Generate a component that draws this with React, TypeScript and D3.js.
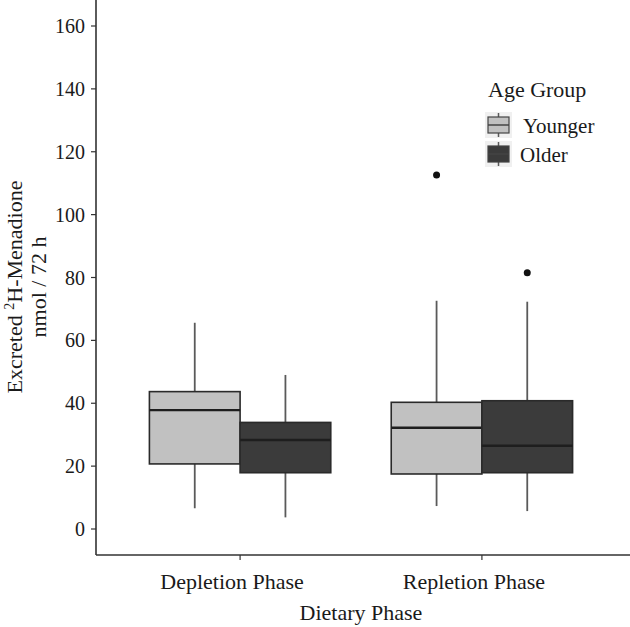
import React, { useEffect, useRef } from "react";
import * as d3 from "d3";

const phases = ["Depletion Phase", "Repletion Phase"];
const groups = ["Younger", "Older"];
const groupColors = ["#c1c1c1", "#3b3b3b"];
// [phaseIndex] = [whiskerLow, q1, median, q3, whiskerHigh]
const younger = [
  [6.6, 20.7, 37.8, 43.7, 65.6],
  [7.3, 17.5, 32.2, 40.3, 72.6],
];
const older = [
  [3.7, 17.9, 28.3, 33.9, 49.0],
  [5.7, 17.9, 26.5, 40.8, 72.3],
];
const outliersYounger = [[], [112.6]];
const outliersOlder = [[], [81.5]];
const yTicks = [0, 20, 40, 60, 80, 100, 120, 140, 160];

export default function App() {
  const ref = useRef<SVGSVGElement>(null);
  useEffect(() => {
    const svg = d3.select(ref.current);
    svg.selectAll("*").remove();
    const font = "'Liberation Serif', 'Times New Roman', serif";
    const y = d3.scaleLinear().domain([0, 160]).range([529, 26]);
    const x = d3.scaleLinear().domain([0.4, 2.6]).range([95, 627]);
    const axisX = 96;
    const axisY = 555;
    const dodge = 0.375;

    // axes lines
    svg.append("line").attr("x1", axisX).attr("x2", axisX).attr("y1", 0).attr("y2", axisY)
      .attr("stroke", "#333").attr("stroke-width", 1.6);
    svg.append("line").attr("x1", axisX).attr("x2", 630).attr("y1", axisY).attr("y2", axisY)
      .attr("stroke", "#333").attr("stroke-width", 1.6);

    // y ticks
    const yg = svg.append("g");
    yTicks.forEach((t) => {
      yg.append("line").attr("x1", axisX - 5).attr("x2", axisX).attr("y1", y(t)).attr("y2", y(t))
        .attr("stroke", "#333").attr("stroke-width", 1.2);
      yg.append("text").attr("x", axisX - 11).attr("y", y(t)).attr("dy", "0.35em")
        .attr("text-anchor", "end").attr("font-family", font).attr("font-size", 20)
        .attr("fill", "#1a1a1a").text(String(t));
    });

    // x ticks
    phases.forEach((p, i) => {
      const cx = x(i + 1);
      svg.append("line").attr("x1", cx).attr("x2", cx).attr("y1", axisY).attr("y2", axisY + 5)
        .attr("stroke", "#333").attr("stroke-width", 1.2);
      svg.append("text").attr("x", cx - 8).attr("y", 589).attr("text-anchor", "middle")
        .attr("font-family", font).attr("font-size", 22).attr("fill", "#1a1a1a").text(p);
    });

    // axis titles
    svg.append("text").attr("x", 361).attr("y", 620).attr("text-anchor", "middle")
      .attr("font-family", font).attr("font-size", 22).attr("fill", "#1a1a1a").text("Dietary Phase");
    const yt = svg.append("text").attr("transform", `translate(0,287) rotate(-90)`)
      .attr("text-anchor", "middle").attr("font-family", font).attr("font-size", 22).attr("fill", "#1a1a1a");
    const l1 = yt.append("tspan").attr("x", 0).attr("y", 22);
    l1.append("tspan").text("Excreted ");
    l1.append("tspan").attr("font-size", 14).attr("dy", -8).text("2");
    l1.append("tspan").attr("dy", 8).text("H-Menadione");
    yt.append("tspan").attr("x", 0).attr("y", 46).text("nmol / 72 h");

    // boxes
    const data = [younger, older];
    const outs = [outliersYounger, outliersOlder];
    phases.forEach((_, pi) => {
      groups.forEach((_, gi) => {
        const s = data[gi][pi];
        const center = pi + 1 + (gi === 0 ? -dodge / 2 : dodge / 2);
        const x0 = x(center - dodge / 2);
        const x1 = x(center + dodge / 2);
        const cx = x(center);
        const g = svg.append("g");
        g.append("line").attr("x1", cx).attr("x2", cx).attr("y1", y(s[3])).attr("y2", y(s[4]))
          .attr("stroke", "#5a5a5a").attr("stroke-width", 1.8);
        g.append("line").attr("x1", cx).attr("x2", cx).attr("y1", y(s[1])).attr("y2", y(s[0]))
          .attr("stroke", "#5a5a5a").attr("stroke-width", 1.8);
        g.append("rect").attr("x", x0).attr("y", y(s[3])).attr("width", x1 - x0)
          .attr("height", y(s[1]) - y(s[3])).attr("fill", groupColors[gi])
          .attr("stroke", "#2a2a2a").attr("stroke-width", 1.6);
        g.append("line").attr("x1", x0).attr("x2", x1).attr("y1", y(s[2])).attr("y2", y(s[2]))
          .attr("stroke", "#1e1e1e").attr("stroke-width", 2.4);
        outs[gi][pi].forEach((o) => {
          g.append("circle").attr("cx", cx).attr("cy", y(o)).attr("r", 3.5).attr("fill", "#111");
        });
      });
    });

    // legend
    const lg = svg.append("g");
    lg.append("text").attr("x", 488).attr("y", 97).attr("font-family", font).attr("font-size", 22)
      .attr("fill", "#1a1a1a").text("Age Group");
    groups.forEach((gname, gi) => {
      const ky = 112 + gi * 29;
      lg.append("rect").attr("x", 485).attr("y", ky).attr("width", 27).attr("height", 26)
        .attr("fill", "#f0f0f0");
      lg.append("line").attr("x1", 498.5).attr("x2", 498.5).attr("y1", ky + 1).attr("y2", ky + 25)
        .attr("stroke", "#5a5a5a").attr("stroke-width", 1.5);
      lg.append("rect").attr("x", 488).attr("y", ky + 5).attr("width", 21).attr("height", 16)
        .attr("fill", groupColors[gi]).attr("stroke", "#444").attr("stroke-width", 1.2);
      lg.append("line").attr("x1", 488).attr("x2", 509).attr("y1", ky + 13).attr("y2", ky + 13)
        .attr("stroke", "#444").attr("stroke-width", 1.5);
      lg.append("text").attr("x", gi === 0 ? 523 : 520).attr("y", ky + 21).attr("font-family", font)
        .attr("font-size", 21).attr("fill", "#1a1a1a").text(gname);
    });
  }, []);
  return (
    <svg ref={ref} width={630} height={627}
      style={{ position: "absolute", left: 0, top: 0, background: "#fff" }} />
  );
}
